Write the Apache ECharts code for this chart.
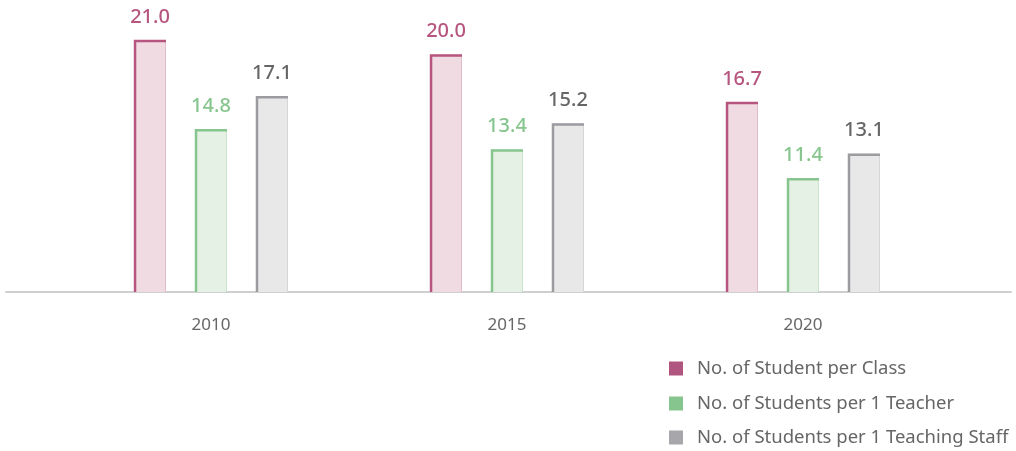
<!DOCTYPE html>
<html>
<head>
<meta charset="utf-8">
<script src="https://cdn.jsdelivr.net/npm/echarts@6/dist/echarts.min.js"></script>
<style>html,body{margin:0;padding:0;background:#fff;}#c{width:1016px;height:451px;}</style>
</head>
<body>
<div id="c"></div>
<script>
const categories = ['2010', '2015', '2020'];
const seriesNames = ['No. of Student per Class', 'No. of Students per 1 Teacher', 'No. of Students per 1 Teaching Staff'];
const perClass = [21.0, 20.0, 16.7];
const perTeacher = [14.8, 13.4, 11.4];
const perStaff = [17.1, 15.2, 13.1];

const seriesData = [perClass, perTeacher, perStaff];
const darkColors = ['#b6567f', '#86c58d', '#9b9ba0'];
const fillColors = ['#f0dbe3', '#e4f1e4', '#e8e8e9'];
const edgeColors = ['#e2bccb', '#c9e5ca', '#d6d6d8'];
const labelColors = ['#b6567f', '#86c58d', '#666666'];
const legendColors = ['#b0557f', '#86c58d', '#a7a7ab'];
const FONT = '"Noto Sans", sans-serif';

const chart = echarts.init(document.getElementById('c'));

function makeRender(idx) {
  return function (params, api) {
    const cat = api.value(0);
    const val = api.value(1);
    const band = api.size([1, 0])[0];
    const barW = band * 0.108;
    const step = band * 0.206;
    const top = api.coord([cat, val]);
    const base = api.coord([cat, 3.5]);
    const cx = top[0] + (idx - 1) * step;
    const x0 = cx - barW / 2;
    const x1 = cx + barW / 2;
    const y0 = top[1];
    const y1 = base[1];
    return {
      type: 'group',
      children: [
        { type: 'rect', shape: { x: x0, y: y0, width: barW, height: y1 - y0 }, style: { fill: fillColors[idx] } },
        { type: 'line', shape: { x1: x1 - 0.5, y1: y0, x2: x1 - 0.5, y2: y1 }, style: { stroke: edgeColors[idx], lineWidth: 1 } },
        { type: 'polyline', shape: { points: [[x0 + 1, y1], [x0 + 1, y0 + 1], [x1, y0 + 1]] }, style: { stroke: darkColors[idx], lineWidth: 2.5, fill: null } },
        { type: 'text', style: { x: cx, y: y0 - 13, text: val.toFixed(1), fill: labelColors[idx], font: '500 20px ' + FONT, align: 'center', verticalAlign: 'bottom' } }
      ]
    };
  };
}

const series = seriesData.map(function (arr, idx) {
  return {
    name: seriesNames[idx],
    type: 'custom',
    xAxisIndex: 0,
    yAxisIndex: 0,
    itemStyle: { color: legendColors[idx] },
    renderItem: makeRender(idx),
    encode: { x: 0, y: 1 },
    data: arr.map(function (v, i) { return [i, v]; }),
    clip: false,
    z: 3
  };
});

const legendTops = [359, 394, 428];
const legends = seriesNames.map(function (name, idx) {
  return {
    orient: 'horizontal',
    left: 669,
    top: legendTops[idx],
    padding: 0,
    itemWidth: 14,
    itemHeight: 14,
    icon: 'rect',
    textStyle: { color: '#666666', fontSize: 18.5, fontFamily: FONT, padding: [0, 0, 0, 9] },
    data: [name]
  };
});

chart.setOption({
  animation: false,
  backgroundColor: '#ffffff',
  grid: [
    { left: 63, right: 65, top: 40, bottom: 159 },
    { left: 6, right: 5, top: 40, bottom: 159 }
  ],
  legend: legends,
  xAxis: [
    {
      type: 'category',
      gridIndex: 0,
      data: categories,
      axisLine: { show: false },
      axisTick: { show: false },
      axisLabel: { color: '#666666', fontSize: 17, fontFamily: FONT, margin: 25 }
    },
    {
      type: 'category',
      gridIndex: 1,
      data: [],
      axisLine: { show: true, lineStyle: { color: '#cfcfcf', width: 2 } },
      axisTick: { show: false },
      axisLabel: { show: false }
    }
  ],
  yAxis: [
    { type: 'value', gridIndex: 0, min: 3.5, max: 21, show: false, splitLine: { show: false } },
    { type: 'value', gridIndex: 1, min: 0, max: 1, show: false, splitLine: { show: false } }
  ],
  series: series
});
</script>
</body>
</html>
